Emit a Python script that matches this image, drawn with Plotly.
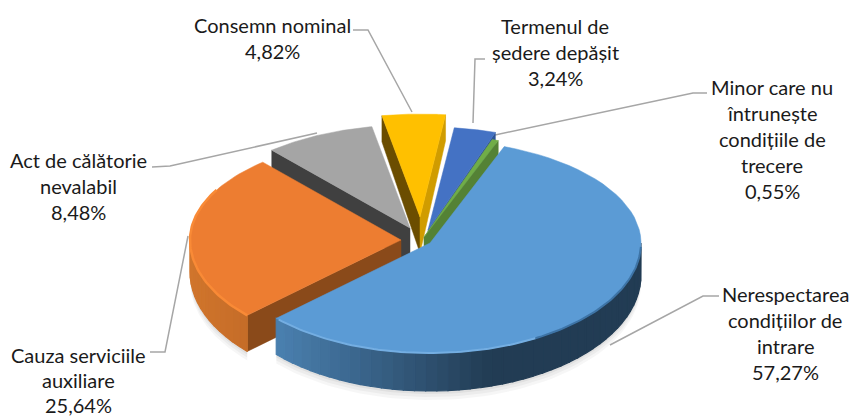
import math
import plotly.graph_objects as go

# ---- data ----
names = ["Nerespectarea condițiilor de intrare", "Cauza serviciile auxiliare",
         "Act de călătorie nevalabil", "Consemn nominal",
         "Termenul de ședere depășit", "Minor care nu întrunește condițiile de trecere"]
values = [57.27, 25.64, 8.48, 4.82, 3.24, 0.55]
label_lines = [["Nerespectarea", "condițiilor de", "intrare"],
               ["Cauza serviciile", "auxiliare"],
               ["Act de călătorie", "nevalabil"],
               ["Consemn nominal"],
               ["Termenul de", "ședere depășit"],
               ["Minor care nu", "întrunește", "condițiile de", "trecere"]]

# ---- pie geometry and styling (pixel space of the 850x417 page) ----
START = 20.6
RX, RY_BACK, RY_FRONT = 211, 103, 110
APEX_X = [430, 401, 410, 420, 428, 424]
APEX_Y = [243, 240, 228, 217, 230, 237]
TOP = ["#5B9BD5", "#ED7D31", "#A5A5A5", "#FFC000", "#4472C4", "#70AD47"]
FACE_START = [None, "#8A4A1A", "#404040", "#6B4D00", None, None]
FACE_END = [None, None, None, "#D09C00", "#2F5597", "#548235"]
LABEL_CX = [785, 78, 78, 272, 555, 772]
LABEL_Y0 = [294, 355, 160, 25, 26, 87]
LINE_HS = [26, 25, 26, 26, 26, 26]
LEADERS = [[(719, 296), (703, 296), (610, 345)],
           [(150, 352), (165, 352), (188, 236)],
           [(152, 167), (170, 166), (317, 133)],
           [(353, 30), (368, 30), (412, 112)],
           [(485, 59), (475, 59), (473, 123)],
           [(707, 93), (693, 93), (495, 135)]]
FONT = dict(family="Lato", size=20, color="#1a1a1a")


def pt(i, deg, drop=0.0):
    a = math.radians(deg)
    c = math.cos(a)
    ry = RY_BACK if c > 0 else RY_FRONT
    return APEX_X[i] + RX * math.sin(a), APEX_Y[i] - ry * c + drop


def depth(deg):
    return 32 - 6 * math.cos(math.radians(deg))


def arc(i, a0, a1, n=60, drop=None):
    pts = []
    for k in range(n + 1):
        d = a0 + (a1 - a0) * k / n
        pts.append(pt(i, d, 0 if drop is None else drop(d)))
    return pts


def mix(c1, c2, t):
    t = max(0.0, min(1.0, t))
    return "rgb(%d,%d,%d)" % tuple(round(c1[j] + (c2[j] - c1[j]) * t) for j in range(3))


fig = go.Figure()


def poly(points, color, name="", line=0):
    xs = [p[0] for p in points] + [points[0][0]]
    ys = [p[1] for p in points] + [points[0][1]]
    fig.add_trace(go.Scatter(x=xs, y=ys, mode="lines", fill="toself", fillcolor=color,
                             line=dict(color=color, width=line), name=name,
                             hoverinfo="name" if name else "skip", showlegend=False))


def stroke(points, color, width):
    fig.add_trace(go.Scatter(x=[p[0] for p in points], y=[p[1] for p in points], mode="lines",
                             line=dict(color=color, width=width), hoverinfo="skip", showlegend=False))


# slice spans from the values
spans = []
a = START
for v in values:
    b = a + v * 3.6
    spans.append((a, b))
    a = b

# soft ground shadow
for grow, alpha in [(9, 0.035), (6, 0.04), (3, 0.05)]:
    for i in (0, 1):
        a0, b0 = spans[i]
        lo, hi = max(a0, 90), min(b0, 270)
        top = arc(i, lo, hi, drop=lambda d: 0)
        low = arc(i, lo, hi, drop=lambda d: depth(d) + grow)
        poly(top + low[::-1], "rgba(0,0,0,%.3f)" % alpha)

# leader lines sit behind the slices
for pts in LEADERS:
    stroke(pts, "#A6A6A6", 1.5)

# painter's order: back slices first
for i in [2, 3, 4, 5, 1, 0]:
    a0, b0 = spans[i]
    ax, ay = APEX_X[i], APEX_Y[i]
    if FACE_START[i]:
        c = pt(i, a0)
        poly([(ax, ay), c, (c[0], c[1] + depth(a0)), (ax, ay + 36)], FACE_START[i], line=0.5)
    if FACE_END[i]:
        c = pt(i, b0)
        poly([(ax, ay), c, (c[0], c[1] + depth(b0)), (ax, ay + 36)], FACE_END[i], line=0.5)
    lo, hi = max(a0, 90), min(b0, 270)
    if hi > lo:
        n = int((hi - lo) / 3)
        for k in range(n):
            d0 = lo + (hi - lo) * k / n
            d1 = lo + (hi - lo) * (k + 1) / n
            seg = arc(i, d0, d1, n=3)
            segb = arc(i, d0, d1, n=3, drop=depth)
            xm = seg[1][0]
            if i == 0:
                col = mix((74, 128, 176), (34, 60, 84), (278 + 0 - xm) / (278 - 490))
            else:
                col = mix((208, 117, 44), (197, 108, 40), (xm - 190) / 60)
            poly(seg + segb[::-1], col, line=1.2)
    poly([(ax, ay)] + arc(i, a0, b0), TOP[i], name=names[i], line=0.5)
    # lit bevel on the near rim
    if i == 1:
        stroke(arc(i, a0, b0 - 20), "#F98A36", 2.5)
    if i == 0:
        stroke(arc(i, 150, b0 - 1), "#74AEE2", 2)
        stroke(arc(i, 92, 150), "#3E74A6", 2)

# labels: one real text per line, last line is the share
annotations = []
for i, lines in enumerate(label_lines):
    all_lines = lines + [f"{values[i]:.2f}%".replace(".", ",")]
    for k, t in enumerate(all_lines):
        annotations.append(dict(x=LABEL_CX[i], y=LABEL_Y0[i] + k * LINE_HS[i], text=t, showarrow=False,
                                xref="x", yref="y", xanchor="center", yanchor="middle", font=FONT))

fig.update_layout(width=850, height=417, margin=dict(l=0, r=0, t=0, b=0),
                  paper_bgcolor="white", plot_bgcolor="white", showlegend=False,
                  annotations=annotations,
                  xaxis=dict(range=[0, 850], visible=False, fixedrange=True),
                  yaxis=dict(range=[417, 0], visible=False, fixedrange=True))
fig.write_html("out.html", config=dict(displayModeBar=False),
               post_script="document.body.style.margin='0';document.body.style.overflow='hidden';")
